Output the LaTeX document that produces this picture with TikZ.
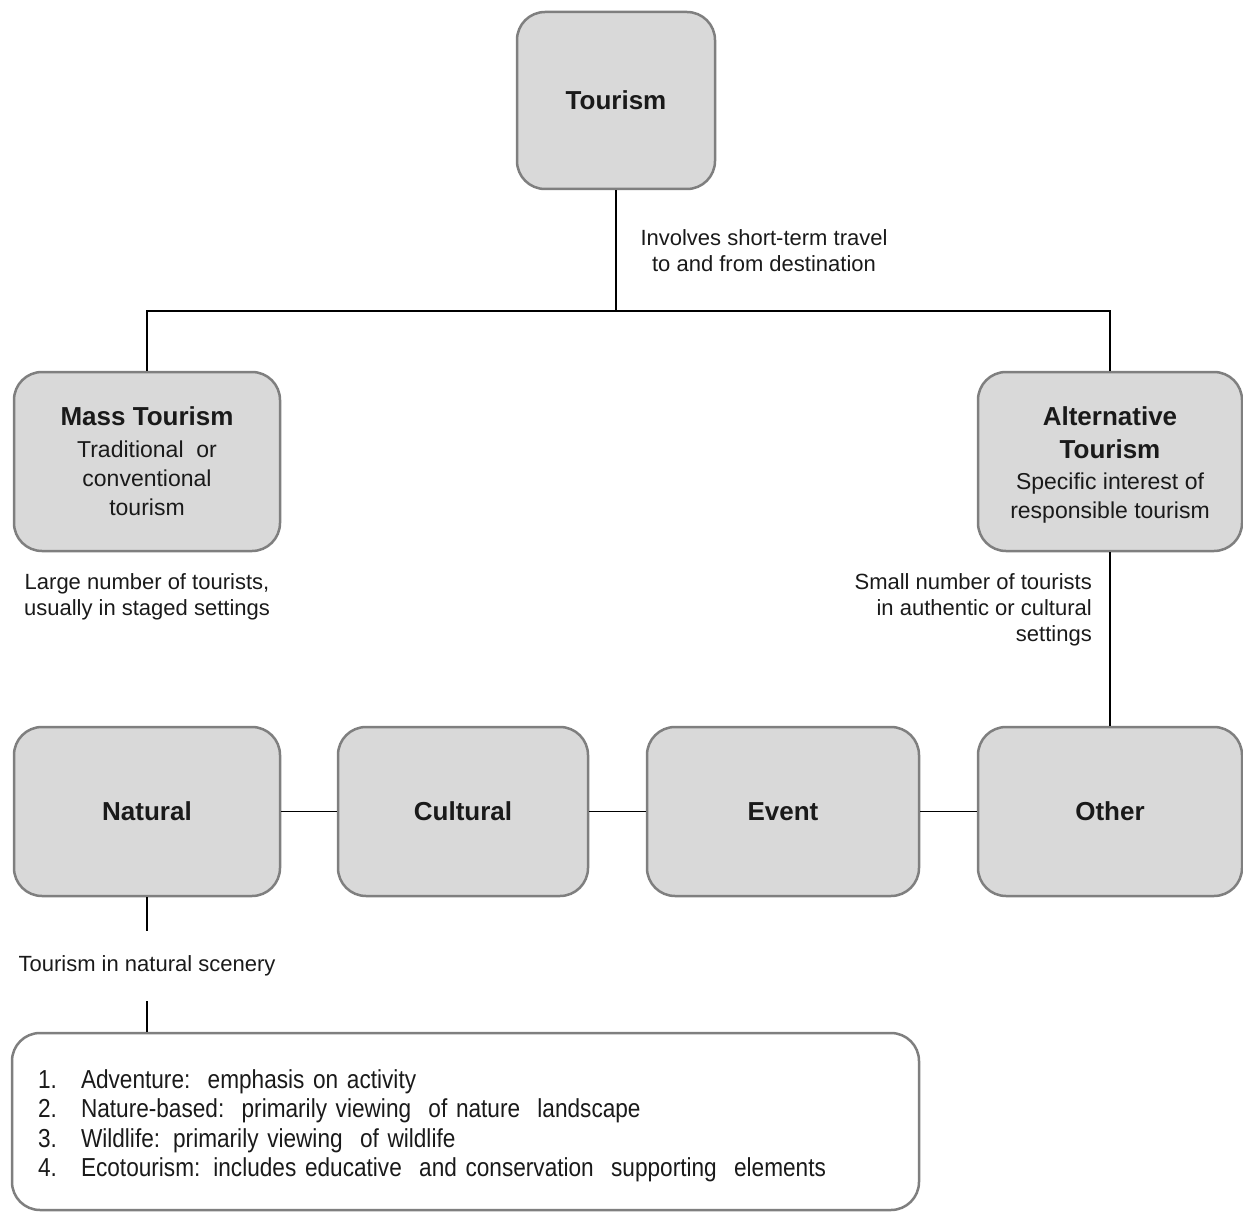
\documentclass[tikz,border=0pt]{standalone}
\usepackage{fontspec}
\setmainfont{Liberation Sans}
\newfontfamily\narrowfont[FakeStretch=0.87]{Liberation Sans}
\definecolor{boxfill}{HTML}{D9D9D9}
\definecolor{boxborder}{HTML}{7F7F7F}
\definecolor{textcol}{HTML}{1A1A1A}
\begin{document}
\begin{tikzpicture}[x=1pt,y=-1pt,
  box/.style={draw=boxborder,line width=2.5pt,fill=boxfill,rounded corners=28pt,
    inner sep=0pt,align=center,text=textcol,font=\fontsize{23}{29}\selectfont},
  conn/.style={draw=black,line width=1.5pt},
  lbl/.style={text=textcol,inner sep=0pt,font=\fontsize{22}{26}\selectfont}]
\useasboundingbox (0,0) rectangle (1243,1212);

% boxes
\node[box,minimum width=198pt,minimum height=177pt] (tour) at (616,100.5)
  {{\fontsize{26}{30}\selectfont\bfseries Tourism}};
\node[box,minimum width=266pt,minimum height=179pt] (mass) at (147,461.5)
  {{\fontsize{26}{30}\selectfont\bfseries Mass Tourism}\\[3pt]Traditional\ \ or\\conventional\\tourism};
\node[box,minimum width=264pt,minimum height=179pt] (alt) at (1110,461.5)
  {\rule{0pt}{26pt}{\fontsize{26}{30}\selectfont\bfseries Alternative}\\[4pt]{\fontsize{26}{30}\selectfont\bfseries Tourism}\\[2pt]Specific interest of\\responsible tourism};
\node[box,minimum width=266pt,minimum height=169pt] (nat) at (147,811.5)
  {{\fontsize{26}{30}\selectfont\bfseries Natural}};
\node[box,minimum width=250pt,minimum height=169pt] (cult) at (463,811.5)
  {{\fontsize{26}{30}\selectfont\bfseries Cultural}};
\node[box,minimum width=272pt,minimum height=169pt] (event) at (783,811.5)
  {{\fontsize{26}{30}\selectfont\bfseries Event}};
\node[box,minimum width=264pt,minimum height=169pt] (other) at (1110,811.5)
  {{\fontsize{26}{30}\selectfont\bfseries Other}};
\node[box,fill=white,minimum width=907pt,minimum height=177pt,text width=855pt,align=left,
  font=\narrowfont\fontsize{26}{29.3}\selectfont] (list) at (465.5,1121.5)
  {\begin{tabular}{@{}p{43pt}@{}l@{}}
   \rule{0pt}{30.5pt}1. & Adventure:\ \ emphasis on activity\\
   2. & Nature-based:\ \ primarily viewing\ \ of nature\ \ landscape\\
   3. & Wildlife: primarily viewing\ \ of wildlife\\
   4. & Ecotourism: includes educative\ \ and conservation\ \ supporting\ \ elements
   \end{tabular}};

% labels
\node[lbl,align=center] (inv) at (764,251) {Involves short-term travel\\to and from destination};
\node[lbl,align=center] (large) at (147,597) {Large number of tourists,\\usually in staged settings};
\node[lbl,align=right,anchor=east] (small) at (1092,610) {Small number of tourists\\in authentic or cultural\\settings};
\node[lbl,minimum height=70pt] (scen) at (147,966) {Tourism in natural scenery};

% connectors
\coordinate (j) at (616,311);
\draw[conn] (tour.south) -- (j);
\draw[conn] (mass.north) |- (j) -| (alt.north);
\draw[conn] (alt.south) -- (other.north);
\draw[conn] (nat.east) -- (cult.west);
\draw[conn] (cult.east) -- (event.west);
\draw[conn] (event.east) -- (other.west);
\draw[conn] (nat.south) -- (scen.north);
\draw[conn] (scen.south) -- (scen.south |- list.north);
\end{tikzpicture}
\end{document}
